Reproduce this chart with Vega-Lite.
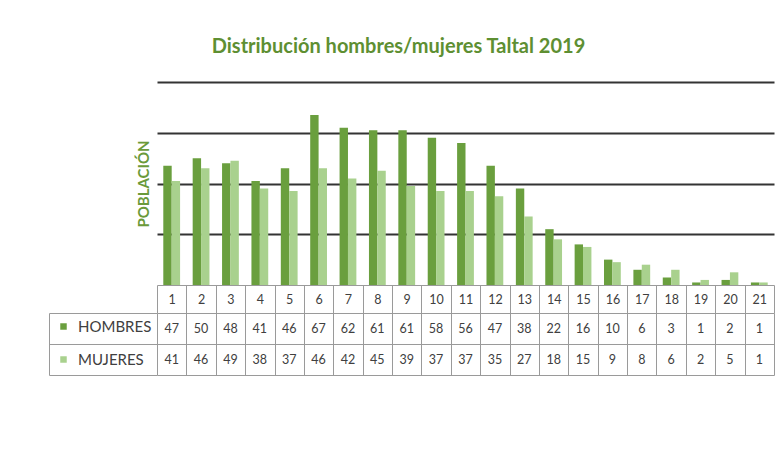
{
  "$schema": "https://vega.github.io/schema/vega-lite/v6.json",
  "padding": {"left": 48, "top": 37, "right": 3, "bottom": 5},
  "background": "white",
  "title": {
    "text": "Distribución hombres/mujeres Taltal 2019",
    "font": "Lato", "fontSize": 20, "fontWeight": "bold", "color": "#5e8f32",
    "anchor": "middle", "offset": 25, "dx": -13
  },
  "datasets": {
    "tabla": [
      {"cat": 1, "serie": "HOMBRES", "valor": 47}, {"cat": 1, "serie": "MUJERES", "valor": 41},
      {"cat": 2, "serie": "HOMBRES", "valor": 50}, {"cat": 2, "serie": "MUJERES", "valor": 46},
      {"cat": 3, "serie": "HOMBRES", "valor": 48}, {"cat": 3, "serie": "MUJERES", "valor": 49},
      {"cat": 4, "serie": "HOMBRES", "valor": 41}, {"cat": 4, "serie": "MUJERES", "valor": 38},
      {"cat": 5, "serie": "HOMBRES", "valor": 46}, {"cat": 5, "serie": "MUJERES", "valor": 37},
      {"cat": 6, "serie": "HOMBRES", "valor": 67}, {"cat": 6, "serie": "MUJERES", "valor": 46},
      {"cat": 7, "serie": "HOMBRES", "valor": 62}, {"cat": 7, "serie": "MUJERES", "valor": 42},
      {"cat": 8, "serie": "HOMBRES", "valor": 61}, {"cat": 8, "serie": "MUJERES", "valor": 45},
      {"cat": 9, "serie": "HOMBRES", "valor": 61}, {"cat": 9, "serie": "MUJERES", "valor": 39},
      {"cat": 10, "serie": "HOMBRES", "valor": 58}, {"cat": 10, "serie": "MUJERES", "valor": 37},
      {"cat": 11, "serie": "HOMBRES", "valor": 56}, {"cat": 11, "serie": "MUJERES", "valor": 37},
      {"cat": 12, "serie": "HOMBRES", "valor": 47}, {"cat": 12, "serie": "MUJERES", "valor": 35},
      {"cat": 13, "serie": "HOMBRES", "valor": 38}, {"cat": 13, "serie": "MUJERES", "valor": 27},
      {"cat": 14, "serie": "HOMBRES", "valor": 22}, {"cat": 14, "serie": "MUJERES", "valor": 18},
      {"cat": 15, "serie": "HOMBRES", "valor": 16}, {"cat": 15, "serie": "MUJERES", "valor": 15},
      {"cat": 16, "serie": "HOMBRES", "valor": 10}, {"cat": 16, "serie": "MUJERES", "valor": 9},
      {"cat": 17, "serie": "HOMBRES", "valor": 6}, {"cat": 17, "serie": "MUJERES", "valor": 8},
      {"cat": 18, "serie": "HOMBRES", "valor": 3}, {"cat": 18, "serie": "MUJERES", "valor": 6},
      {"cat": 19, "serie": "HOMBRES", "valor": 1}, {"cat": 19, "serie": "MUJERES", "valor": 2},
      {"cat": 20, "serie": "HOMBRES", "valor": 2}, {"cat": 20, "serie": "MUJERES", "valor": 5},
      {"cat": 21, "serie": "HOMBRES", "valor": 1}, {"cat": 21, "serie": "MUJERES", "valor": 1}
    ]
  },
  "bounds": "flush",
  "spacing": 28,
  "vconcat": [
    {
      "width": 617,
      "height": 203,
      "data": {"name": "tabla"},
      "mark": {"type": "bar"},
      "encoding": {
        "x": {
          "field": "cat", "type": "ordinal",
          "scale": {"paddingInner": 0, "paddingOuter": 0},
          "axis": {
            "title": null, "labelAngle": 0, "labelFont": "Lato", "labelFontSize": 12.5,
            "labelColor": "#404040", "tickBand": "extent", "tickSize": 28,
            "tickColor": "#9a9a9a", "domainColor": "#9a9a9a", "labelPadding": -20
          }
        },
        "xOffset": {
          "field": "serie", "type": "nominal",
          "scale": {"paddingOuter": 0.75, "paddingInner": 0}
        },
        "y": {
          "field": "valor", "type": "quantitative",
          "scale": {"domain": [0, 80], "nice": false},
          "axis": {
            "title": "POBLACIÓN", "titleFont": "Lato", "titleFontSize": 15,
            "titleFontWeight": "bold", "titleColor": "#6a9a3a", "titlePadding": 6,
            "labels": false, "ticks": false, "domain": false,
            "values": [20, 40, 60, 80], "grid": true, "gridColor": "#333333", "gridWidth": 2
          }
        },
        "color": {
          "field": "serie", "type": "nominal",
          "scale": {"domain": ["HOMBRES", "MUJERES"], "range": ["#6a9f3e", "#a9d18e"]},
          "legend": {
            "title": null, "orient": "none", "legendX": -101, "legendY": 237,
            "symbolType": "square", "symbolSize": 42, "symbolStrokeWidth": 0,
            "labelFont": "Lato", "labelFontSize": 15, "labelColor": "#404040",
            "labelOffset": 7, "rowPadding": 17, "padding": 0
          }
        }
      }
    },
    {
      "width": 617,
      "height": 62,
      "data": {"name": "tabla"},
      "mark": {"type": "text", "font": "Lato", "fontSize": 12.5, "color": "#404040"},
      "encoding": {
        "x": {
          "field": "cat", "type": "ordinal",
          "scale": {"paddingInner": 0, "paddingOuter": 0},
          "axis": {
            "title": null, "labels": false, "ticks": false, "domain": false,
            "grid": true, "tickBand": "extent", "gridColor": "#9a9a9a"
          }
        },
        "y": {
          "field": "serie", "type": "nominal",
          "scale": {"domain": ["HOMBRES", "MUJERES"], "paddingInner": 0, "paddingOuter": 0},
          "axis": {
            "title": null, "labels": false, "offset": 108, "tickSize": -108,
            "tickBand": "extent", "tickColor": "#9a9a9a", "domainColor": "#9a9a9a",
            "grid": true, "gridColor": "#9a9a9a"
          }
        },
        "text": {"field": "valor", "type": "quantitative"}
      }
    }
  ],
  "config": {"view": {"stroke": null}}
}
